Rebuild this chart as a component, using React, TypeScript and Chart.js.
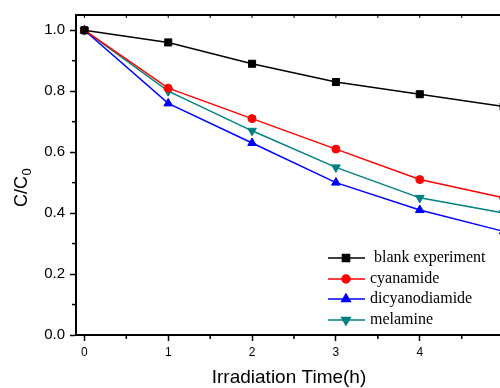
import React, { useEffect, useRef } from 'react';
import { Chart, registerables } from 'chart.js';
import { drawPoint } from 'chart.js/helpers';

Chart.register(...registerables);

const times = [0, 1, 2, 3, 4, 5];
const blankExperiment = [1.0, 0.96, 0.89, 0.83, 0.79, 0.75];
const cyanamide = [1.0, 0.81, 0.71, 0.61, 0.51, 0.45];
const dicyanodiamide = [1.0, 0.76, 0.63, 0.5, 0.41, 0.34];
const melamine = [1.0, 0.8, 0.67, 0.55, 0.45, 0.4];
const seriesNames = [' blank experiment', 'cyanamide', 'dicyanodiamide', 'melamine'];
const seriesValues = [blankExperiment, cyanamide, dicyanodiamide, melamine];
const seriesColors = ['#000000', '#ff0000', '#0000ff', '#008080'];
const seriesPointStyles = ['rect', 'circle', 'triangle', 'triangle'];
const seriesPointRotation = [0, 0, 0, 180];
const seriesPointRadius = [5, 4, 5, 5];
const xTickValues = [0, 1, 2, 3, 4, 5];
const yTickValues = [0, 0.2, 0.4, 0.6, 0.8, 1.0];
const yMinorTicks = [0.1, 0.3, 0.5, 0.7, 0.9];
const xMinorTicks = [0.5, 1.5, 2.5, 3.5, 4.5];
const xTopTicks = [0, 0.5, 1, 1.5, 2, 2.5, 3, 3.5, 4, 4.5, 5];
const xTitle = 'Irradiation Time(h)';

const decorPlugin = {
  id: 'decor',
  afterDraw(chart: any) {
    const ctx = chart.ctx;
    const { left, right, top, bottom } = chart.chartArea;
    const xs = chart.scales.x;
    const ys = chart.scales.y;
    ctx.save();
    ctx.strokeStyle = '#000';
    ctx.lineWidth = 2;
    ctx.beginPath();
    ctx.moveTo(left - 1, top);
    ctx.lineTo(right, top);
    ctx.stroke();
    ctx.lineWidth = 1.5;
    yMinorTicks.forEach((v) => {
      const p = ys.getPixelForValue(v);
      ctx.beginPath();
      ctx.moveTo(left - 4, p);
      ctx.lineTo(left, p);
      ctx.stroke();
    });
    xMinorTicks.forEach((v) => {
      const p = xs.getPixelForValue(v);
      ctx.beginPath();
      ctx.moveTo(p, bottom);
      ctx.lineTo(p, bottom + 4);
      ctx.stroke();
    });
    ctx.lineWidth = 1;
    xTopTicks.forEach((v) => {
      const p = xs.getPixelForValue(v);
      ctx.beginPath();
      ctx.moveTo(p, top - 1);
      ctx.lineTo(p, top + 3);
      ctx.stroke();
    });

    const rowsY = [258, 279, 299, 320];
    seriesNames.forEach((name, i) => {
      const y = rowsY[i];
      ctx.strokeStyle = seriesColors[i];
      ctx.lineWidth = 1.5;
      ctx.beginPath();
      ctx.moveTo(328, y);
      ctx.lineTo(365, y);
      ctx.stroke();
      ctx.fillStyle = seriesColors[i];
      drawPoint(ctx, {
        pointStyle: seriesPointStyles[i] as any,
        rotation: seriesPointRotation[i],
        radius: seriesPointRadius[i],
        borderWidth: 1,
      } as any, 346, y);
      ctx.fillStyle = '#000';
      ctx.font = '16px "Liberation Serif", "Times New Roman", serif';
      ctx.textAlign = 'left';
      ctx.textBaseline = 'middle';
      ctx.fillText(name, 370, y);
    });

    ctx.fillStyle = '#000';
    ctx.font = '19px "Liberation Sans", Arial, sans-serif';
    ctx.textAlign = 'center';
    ctx.textBaseline = 'middle';
    ctx.fillText(xTitle, 289, 378);

    ctx.save();
    ctx.translate(21, 188);
    ctx.rotate(-Math.PI / 2);
    const mainFont = '18px "Liberation Sans", Arial, sans-serif';
    const subFont = '13px "Liberation Sans", Arial, sans-serif';
    ctx.font = mainFont;
    const w1 = ctx.measureText('C/C').width;
    ctx.font = subFont;
    const w2 = ctx.measureText('0').width;
    const start = -(w1 + w2) / 2;
    ctx.textAlign = 'left';
    ctx.textBaseline = 'alphabetic';
    ctx.font = mainFont;
    ctx.fillText('C/C', start, 6);
    ctx.font = subFont;
    ctx.fillText('0', start + w1 + 0.5, 10);
    ctx.restore();

    ctx.restore();
  },
};

export default function App() {
  const ref = useRef<HTMLCanvasElement | null>(null);
  useEffect(() => {
    if (!ref.current) return;
    const chart = new Chart(ref.current, {
      type: 'line',
      data: {
        datasets: seriesNames.map((name, i) => ({
          label: name,
          data: times.map((t, j) => ({ x: t, y: seriesValues[i][j] })),
          borderColor: seriesColors[i],
          backgroundColor: seriesColors[i],
          borderWidth: 1.5,
          pointStyle: seriesPointStyles[i] as any,
          rotation: seriesPointRotation[i],
          pointRadius: seriesPointRadius[i],
          pointBorderWidth: 1,
          tension: 0,
          fill: false,
        })),
      },
      options: {
        animation: false,
        responsive: false,
        layout: { padding: { top: 15, right: 8, left: 0, bottom: 0 } },
        plugins: {
          legend: { display: false },
          tooltip: { enabled: false },
        },
        scales: {
          x: {
            type: 'linear',
            min: -0.1,
            max: 5.1,
            afterBuildTicks: (s: any) => {
              s.ticks = xTickValues.map((v) => ({ value: v }));
            },
            ticks: {
              color: '#000',
              font: { family: '"Liberation Sans", Arial, sans-serif', size: 12 },
              padding: 4,
              maxRotation: 0,
              autoSkip: false,
              callback: (v: any) => String(v),
            },
            grid: {
              display: true,
              drawOnChartArea: false,
              drawTicks: true,
              tickLength: 6,
              tickWidth: 1.5,
              tickColor: '#000',
              color: '#000',
            },
            border: { display: true, color: '#000', width: 2 },
            afterFit: (s: any) => {
              s.height = 53;
              s.paddingRight = 0;
              s.paddingLeft = 0;
            },
          },
          y: {
            type: 'linear',
            min: 0,
            max: 1.05,
            afterBuildTicks: (s: any) => {
              s.ticks = yTickValues.map((v) => ({ value: v }));
            },
            ticks: {
              color: '#000',
              font: { family: '"Liberation Sans", Arial, sans-serif', size: 15 },
              padding: 5,
              autoSkip: false,
              callback: (v: any) => Number(v).toFixed(1),
            },
            grid: {
              display: true,
              drawOnChartArea: false,
              drawTicks: true,
              tickLength: 6,
              tickWidth: 1.5,
              tickColor: '#000',
              color: '#000',
            },
            border: { display: true, color: '#000', width: 2 },
            afterFit: (s: any) => {
              s.width = 76;
              s.paddingTop = 0;
              s.paddingBottom = 0;
            },
          },
        },
      } as any,
      plugins: [decorPlugin],
    });
    return () => chart.destroy();
  }, []);
  return (
    <div
      style={{
        position: 'absolute',
        left: 0,
        top: 0,
        width: 500,
        height: 388,
        overflow: 'hidden',
        background: '#fff',
      }}
    >
      <canvas ref={ref} width={520} height={388} style={{ display: 'block' }} />
    </div>
  );
}
